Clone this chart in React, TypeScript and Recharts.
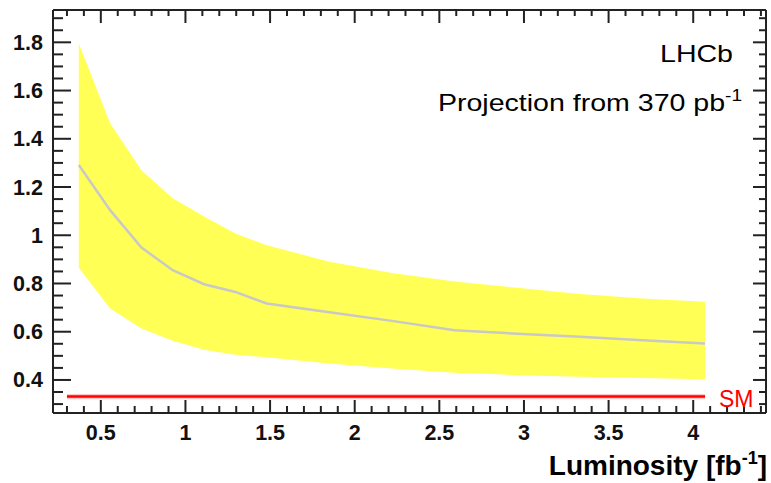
import React from "react";
import {
  ComposedChart, Area, Line, XAxis, YAxis, ReferenceLine, ReferenceArea,
} from "recharts";

// integrated luminosity [fb^-1], multiples of the 370 pb^-1 starting sample
const lumi = [0.37, 0.555, 0.74, 0.925, 1.11, 1.295, 1.48, 1.85, 2.22, 2.59, 2.96, 3.33, 3.7, 4.07];
const central = [1.291, 1.104, 0.949, 0.855, 0.797, 0.765, 0.717, 0.681, 0.645, 0.606, 0.592, 0.579, 0.565, 0.551];
const upper = [1.795, 1.464, 1.27, 1.153, 1.078, 1.007, 0.959, 0.89, 0.843, 0.808, 0.782, 0.756, 0.738, 0.724];
const lower = [0.865, 0.696, 0.613, 0.563, 0.525, 0.505, 0.494, 0.468, 0.447, 0.43, 0.42, 0.413, 0.408, 0.403];

// Standard Model expectation and its small uncertainty
const smValue = 0.331;
const smLow = 0.320;
const smHigh = 0.342;
const smFrom = 0.3;
const smTo = 4.07;

const yMajor = [0.4, 0.6, 0.8, 1, 1.2, 1.4, 1.6, 1.8];
const yLabels = ["0.4", "0.6", "0.8", "1", "1.2", "1.4", "1.6", "1.8"];
const xMajor = [0.5, 1, 1.5, 2, 2.5, 3, 3.5, 4];
const xLabels = ["0.5", "1", "1.5", "2", "2.5", "3", "3.5", "4"];

// minor divisions: 0.05 on y, 0.1 on x
const yTicks = Array.from({ length: 33 }, (_, i) => +(0.3 + 0.05 * i).toFixed(2));
const xTicks = Array.from({ length: 42 }, (_, i) => +(0.3 + 0.1 * i).toFixed(1));

const data = lumi.map((l, i) => ({
  lumi: l,
  central: central[i],
  band: [lower[i], upper[i]],
}));

const FONT = "'Liberation Sans', Arial, Helvetica, sans-serif";
const FRAME = "#222";

const labelFor = (v: number, majors: number[], labels: string[]) => {
  const i = majors.findIndex((m) => Math.abs(m - v) < 1e-6);
  return i >= 0 ? labels[i] : null;
};

const LeftTick = ({ x, y, payload }: any) => {
  const label = labelFor(payload.value, yMajor, yLabels);
  return (
    <g>
      <line x1={x} x2={x + (label ? 18 : 10)} y1={y} y2={y} stroke={FRAME} strokeWidth={2} />
      {label && (
        <text x={x - 10} y={y + 7.5} textAnchor="end" fontSize={21.5} fontWeight="bold" fill="#111" fontFamily={FONT}>
          {label}
        </text>
      )}
    </g>
  );
};

const RightTick = ({ x, y, payload }: any) => {
  const major = labelFor(payload.value, yMajor, yLabels);
  return <line x1={x} x2={x - (major ? 13 : 7)} y1={y} y2={y} stroke={FRAME} strokeWidth={2} />;
};

const BottomTick = ({ x, y, payload }: any) => {
  const label = labelFor(payload.value, xMajor, xLabels);
  return (
    <g>
      <line x1={x} x2={x} y1={y} y2={y - (label ? 13 : 7)} stroke={FRAME} strokeWidth={2} />
      {label && (
        <text x={x} y={y + 27} textAnchor="middle" fontSize={21.5} fontWeight="bold" fill="#111" fontFamily={FONT}>
          {label}
        </text>
      )}
    </g>
  );
};

const TopTick = ({ x, y, payload }: any) => {
  const major = labelFor(payload.value, xMajor, xLabels);
  return <line x1={x} x2={x} y1={y} y2={y + (major ? 13 : 6)} stroke={FRAME} strokeWidth={2} />;
};

export default function App() {
  return (
    <div style={{ position: "fixed", left: 0, top: 0, width: 771, height: 483, background: "#fff" }}>
      <ComposedChart width={771} height={483} data={data} margin={{ top: 0, right: 0, bottom: 0, left: 0 }}>
        <XAxis
          xAxisId="b" dataKey="lumi" type="number" orientation="bottom" height={70}
          domain={[0.2175, 4.43]} allowDataOverflow ticks={xTicks} interval={0}
          tickSize={0} tickMargin={0} tickLine={false} tick={<BottomTick />}
          axisLine={{ stroke: FRAME, strokeWidth: 2 }}
        />
        <XAxis
          xAxisId="t" dataKey="lumi" type="number" orientation="top" height={10}
          domain={[0.2175, 4.43]} allowDataOverflow ticks={xTicks} interval={0}
          tickSize={0} tickMargin={0} tickLine={false} tick={<TopTick />}
          axisLine={{ stroke: FRAME, strokeWidth: 2 }}
        />
        <YAxis
          yAxisId="l" orientation="left" width={53} type="number"
          domain={[0.263, 1.934]} allowDataOverflow ticks={yTicks} interval={0}
          tickSize={0} tickMargin={0} tickLine={false} tick={<LeftTick />}
          axisLine={{ stroke: FRAME, strokeWidth: 2 }}
        />
        <YAxis
          yAxisId="r" orientation="right" width={5} type="number"
          domain={[0.263, 1.934]} allowDataOverflow ticks={yTicks} interval={0}
          tickSize={0} tickMargin={0} tickLine={false} tick={<RightTick />}
          axisLine={{ stroke: FRAME, strokeWidth: 2 }}
        />
        <Area
          xAxisId="b" yAxisId="l" type="linear" dataKey="band"
          fill="#ffff55" fillOpacity={1} stroke="none" isAnimationActive={false}
        />
        <Line
          xAxisId="b" yAxisId="l" type="linear" dataKey="central"
          stroke="#c8c8c8" strokeWidth={2.5} dot={false} isAnimationActive={false}
        />
        <ReferenceArea
          xAxisId="b" yAxisId="l" x1={smFrom} x2={smTo} y1={smLow} y2={smHigh}
          fill="#ffc0c0" fillOpacity={0.9} stroke="none"
        />
        <ReferenceLine
          xAxisId="b" yAxisId="l"
          segment={[{ x: smFrom, y: smValue }, { x: smTo, y: smValue }]}
          stroke="#ff0000" strokeWidth={2.5}
        />
      </ComposedChart>
      <svg
        width={771} height={483}
        style={{ position: "absolute", left: 0, top: 0, pointerEvents: "none" }}
        fontFamily={FONT}
      >
        <g transform="translate(733,61.5) scale(1.19,1)">
          <text x={0} y={0} textAnchor="end" fontSize={24} fill="#000">LHCb</text>
        </g>
        <g transform="translate(742,111) scale(1.19,1)">
          <text x={0} y={0} textAnchor="end" fontSize={24} fill="#000">
            Projection from 370 pb<tspan fontSize={16} dy={-10}>-1</tspan>
          </text>
        </g>
        <text x={719} y={406.5} fontSize={23} fill="#ff0000">SM</text>
        <text x={767} y={475} textAnchor="end" fontSize={28} fontWeight="bold" fill="#000">
          Luminosity [fb<tspan fontSize={18} dy={-11}>-1</tspan><tspan dy={11}>]</tspan>
        </text>
      </svg>
    </div>
  );
}
